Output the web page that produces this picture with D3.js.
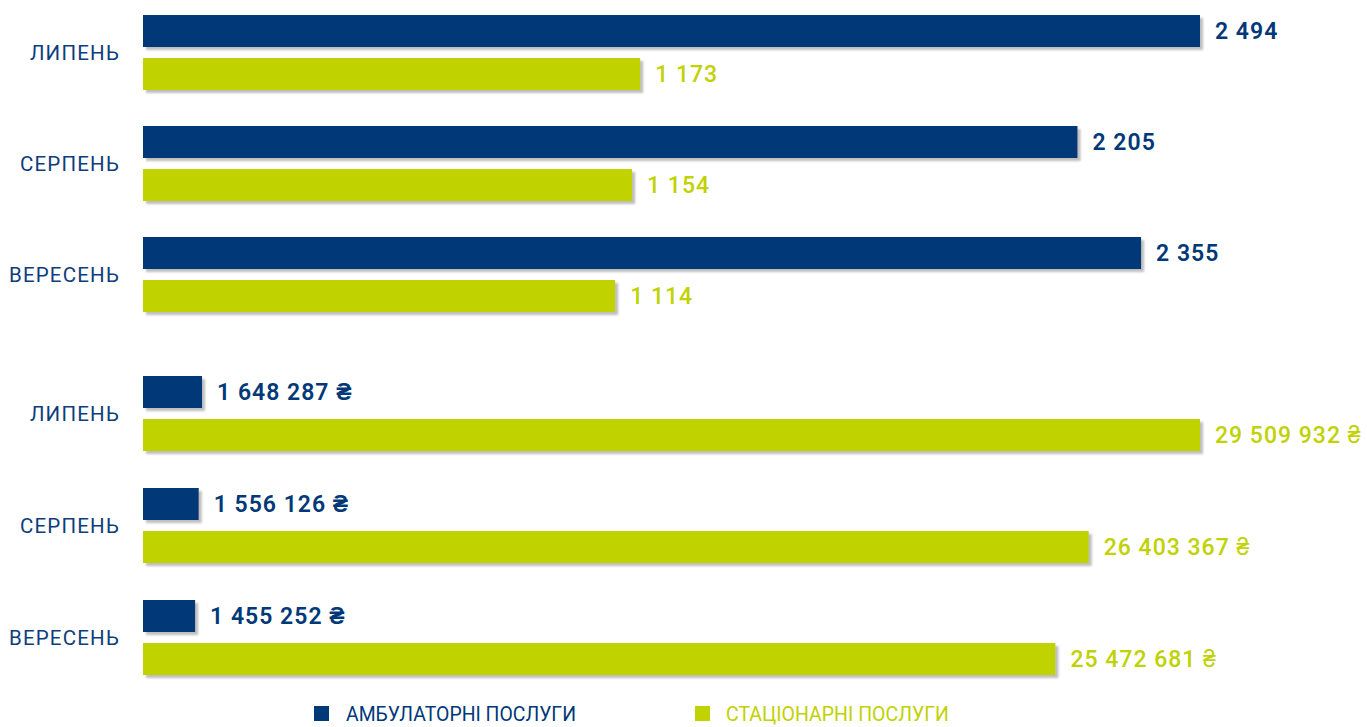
<!DOCTYPE html>
<html><head><meta charset="utf-8">
<script src="https://cdn.jsdelivr.net/npm/d3@7"></script>
<style>
html,body{margin:0;padding:0;background:#fff;overflow:hidden;}
svg{display:block;}
</style></head>
<body>
<svg id="chart" width="1367" height="727"></svg>
<script>
const months = ["ЛИПЕНЬ", "СЕРПЕНЬ", "ВЕРЕСЕНЬ"];
const seriesNames = ["АМБУЛАТОРНІ ПОСЛУГИ", "СТАЦІОНАРНІ ПОСЛУГИ"];
const countsAmb = [2494, 2205, 2355];
const countsStat = [1173, 1154, 1114];
const sumsAmb = [1648287, 1556126, 1455252];
const sumsStat = [29509932, 26403367, 25472681];

const BLUE = "#003878", GREEN = "#c0d200";
const colors = [BLUE, GREEN];

const svg = d3.select("#chart");
const defs = svg.append("defs");
const f = defs.append("filter").attr("id","shadow").attr("x","-5%").attr("y","-20%").attr("width","120%").attr("height","160%");
f.append("feDropShadow").attr("dx",3).attr("dy",3).attr("stdDeviation",1).attr("flood-color","#888").attr("flood-opacity",0.55);

const x0 = 143;
const fmt = v => d3.format(",")(v).replace(/,/g, " ");

function panel(amb, stat, y0, step, maxV, suffix) {
  const inner = 75;
  const y = d3.scaleBand().domain(months).range([y0, y0 + 3*step - (step - inner)]).paddingInner((step - inner)/step).paddingOuter(0);
  const ys = d3.scaleBand().domain([0,1]).range([0, y.bandwidth()]).paddingInner(11/43).paddingOuter(0);
  const x = d3.scaleLinear().domain([0, maxV]).range([x0, x0 + 1057]);
  const data = [];
  months.forEach((m, i) => {
    data.push({m, s:0, v:amb[i]});
    data.push({m, s:1, v:stat[i]});
  });
  const g = svg.append("g");
  g.selectAll("rect").data(data).join("rect")
    .attr("x", x(0))
    .attr("y", d => y(d.m) + ys(d.s))
    .attr("width", d => x(d.v) - x(0))
    .attr("height", ys.bandwidth())
    .attr("fill", d => colors[d.s])
    .attr("filter","url(#shadow)");
  g.selectAll("text.val").data(data).join("text")
    .attr("class","val")
    .attr("x", d => x(d.v) + 15)
    .attr("y", d => y(d.m) + ys(d.s) + ys.bandwidth()/2)
    .attr("dy","0.36em")
    .attr("fill", d => colors[d.s])
    .attr("font-family","Roboto, sans-serif")
    .attr("font-weight", d => d.s === 0 ? 600 : 500)
    .attr("font-size", 23)
    .attr("letter-spacing", 1)
    .text(d => fmt(d.v) + suffix);
  g.selectAll("text.cat").data(months).join("text")
    .attr("class","cat")
    .attr("x", 120)
    .attr("y", d => y(d) + y.bandwidth()/2)
    .attr("dy","0.36em")
    .attr("text-anchor","end")
    .attr("fill", "#0c3d7c")
    .attr("font-family","Roboto, sans-serif")
    .attr("font-size", 20.5)
    .attr("letter-spacing", 1.2)
    .text(d => d);
}

panel(countsAmb, countsStat, 15, 111, 2494, "");
panel(sumsAmb, sumsStat, 376, 112, 29509932, " ₴");

// legend
const legend = [
  {name: seriesNames[0], c: BLUE, sx: 314, tx: 346, tw: 230},
  {name: seriesNames[1], c: GREEN, sx: 695, tx: 726, tw: 223}
];
const lg = svg.append("g");
lg.selectAll("rect").data(legend).join("rect")
  .attr("x", d => d.sx).attr("y", 706).attr("width", 15).attr("height", 15)
  .attr("fill", d => d.c);
lg.selectAll("text").data(legend).join("text")
  .attr("x", d => d.tx).attr("y", 721)
  .attr("fill", d => d.c)
  .attr("font-family","Roboto, sans-serif")
  .attr("font-size", 21)
  .attr("textLength", d => d.tw)
  .attr("lengthAdjust","spacingAndGlyphs")
  .text(d => d.name);
</script>
</body></html>
